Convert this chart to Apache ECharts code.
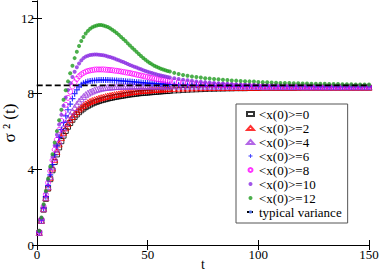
<!DOCTYPE html>
<html>
<head>
<meta charset="utf-8">
<script src="https://cdn.jsdelivr.net/npm/echarts@6/dist/echarts.min.js"></script>
<style>html,body{margin:0;padding:0;background:#fff;}#c{width:382px;height:273px;}</style>
</head>
<body>
<div id="c"></div>
<script>
// time grid: t = 1..60 (step 1), then 62..150 (step 2)
const tEarly = [1,2,3,4,5,6,7,8,9,10,11,12,13,14,15,16,17,18,19,20,21,22,23,24,25,26,27,28,29,30,31,32,33,34,35,36,37,38,39,40,41,42,43,44,45,46,47,48,49,50,51,52,53,54,55,56,57,58,59,60];
const tLate = [62,64,66,68,70,72,74,76,78,80,82,84,86,88,90,92,94,96,98,100,102,104,106,108,110,112,114,116,118,120,122,124,126,128,130,132,134,136,138,140,142,144,146,148,150];

const x0_0 = [0.64,1.27,1.87,2.44,2.98,3.48,3.95,4.39,4.79,5.16,
5.49,5.78,6.03,6.25,6.45,6.62,6.77,6.9,7.02,7.12,
7.21,7.29,7.36,7.42,7.48,7.53,7.57,7.61,7.65,7.68,
7.71,7.74,7.77,7.79,7.82,7.84,7.86,7.88,7.9,7.92,
7.94,7.96,7.97,7.99,8.0,8.02,8.03,8.04,8.05,8.06,
8.07,8.08,8.09,8.1,8.11,8.12,8.13,8.14,8.14,8.15,
8.17,8.18,8.2,8.21,8.22,8.23,8.24,8.25,8.26,8.26,
8.27,8.27,8.28,8.28,8.29,8.29,8.29,8.3,8.3,8.3,
8.31,8.31,8.31,8.31,8.31,8.31,8.31,8.31,8.32,8.32,
8.32,8.32,8.32,8.32,8.32,8.32,8.32,8.32,8.32,8.32,
8.32,8.32,8.32,8.32,8.32];

const x0_2 = [0.66,1.3,1.92,2.5,3.06,3.58,4.07,4.53,4.95,5.34,
5.68,5.96,6.2,6.42,6.62,6.79,6.94,7.07,7.19,7.29,
7.38,7.46,7.53,7.59,7.64,7.68,7.72,7.76,7.79,7.82,
7.85,7.88,7.9,7.93,7.95,7.97,7.99,8.01,8.03,8.05,
8.07,8.09,8.1,8.12,8.13,8.15,8.16,8.17,8.18,8.19,
8.2,8.21,8.22,8.23,8.24,8.24,8.25,8.26,8.26,8.27,
8.28,8.29,8.3,8.3,8.31,8.31,8.32,8.32,8.33,8.33,
8.33,8.33,8.33,8.33,8.33,8.33,8.33,8.33,8.33,8.33,
8.34,8.34,8.34,8.34,8.34,8.34,8.34,8.34,8.34,8.34,
8.34,8.34,8.34,8.34,8.34,8.34,8.34,8.34,8.34,8.34,
8.34,8.34,8.34,8.34,8.34];

const x0_4 = [0.66,1.3,1.92,2.52,3.09,3.63,4.14,4.62,5.07,5.49,
5.87,6.18,6.45,6.68,6.88,7.08,7.27,7.44,7.6,7.73,
7.85,7.95,8.03,8.09,8.14,8.19,8.23,8.26,8.29,8.31,
8.33,8.34,8.35,8.36,8.37,8.38,8.38,8.39,8.39,8.4,
8.4,8.4,8.4,8.41,8.41,8.41,8.41,8.41,8.41,8.41,
8.41,8.41,8.41,8.41,8.41,8.41,8.41,8.41,8.41,8.41,
8.41,8.4,8.4,8.4,8.4,8.4,8.4,8.39,8.39,8.39,
8.39,8.39,8.39,8.38,8.38,8.38,8.38,8.38,8.38,8.38,
8.37,8.37,8.37,8.37,8.37,8.37,8.37,8.37,8.37,8.36,
8.36,8.36,8.36,8.36,8.36,8.36,8.36,8.36,8.36,8.36,
8.36,8.36,8.36,8.36,8.36];

const x0_6 = [0.67,1.32,1.95,2.56,3.15,3.71,4.25,4.76,5.24,5.69,
6.1,6.48,6.83,7.15,7.45,7.74,8.0,8.2,8.36,8.47,
8.55,8.6,8.64,8.67,8.69,8.7,8.71,8.72,8.72,8.72,
8.72,8.72,8.71,8.71,8.7,8.7,8.69,8.68,8.67,8.66,
8.65,8.64,8.63,8.62,8.61,8.6,8.59,8.58,8.57,8.56,
8.55,8.54,8.54,8.53,8.52,8.51,8.5,8.5,8.49,8.49,
8.48,8.47,8.46,8.45,8.45,8.44,8.44,8.43,8.43,8.42,
8.42,8.42,8.41,8.41,8.41,8.4,8.4,8.4,8.4,8.39,
8.39,8.39,8.39,8.39,8.38,8.38,8.38,8.38,8.38,8.38,
8.38,8.38,8.37,8.37,8.37,8.37,8.37,8.37,8.37,8.37,
8.37,8.37,8.37,8.37,8.37];

const x0_8 = [0.7,1.38,2.04,2.68,3.3,3.9,4.48,5.04,5.57,6.08,
6.56,7.0,7.41,7.78,8.1,8.38,8.6,8.78,8.92,9.02,
9.1,9.16,9.2,9.23,9.25,9.27,9.28,9.28,9.28,9.28,
9.27,9.26,9.25,9.24,9.22,9.21,9.19,9.17,9.15,9.13,
9.11,9.09,9.06,9.04,9.01,8.98,8.96,8.93,8.9,8.88,
8.85,8.83,8.8,8.78,8.76,8.74,8.72,8.7,8.68,8.67,
8.64,8.61,8.58,8.56,8.54,8.52,8.5,8.49,8.48,8.47,
8.46,8.45,8.44,8.43,8.43,8.42,8.42,8.41,8.41,8.41,
8.4,8.4,8.4,8.4,8.39,8.39,8.39,8.39,8.39,8.39,
8.39,8.38,8.38,8.38,8.38,8.38,8.38,8.38,8.38,8.38,
8.38,8.38,8.38,8.38,8.38];

const x0_10 = [0.72,1.42,2.1,2.77,3.42,4.05,4.67,5.26,5.83,6.37,
6.88,7.36,7.8,8.2,8.56,8.88,9.16,9.4,9.6,9.76,
9.88,9.96,10.01,10.04,10.06,10.07,10.07,10.06,10.05,10.03,
10.0,9.97,9.94,9.9,9.86,9.81,9.77,9.72,9.67,9.62,
9.57,9.52,9.47,9.42,9.38,9.33,9.29,9.24,9.2,9.16,
9.12,9.09,9.05,9.02,8.99,8.96,8.93,8.91,8.88,8.86,
8.82,8.78,8.74,8.71,8.68,8.65,8.63,8.61,8.59,8.57,
8.55,8.54,8.52,8.51,8.5,8.49,8.48,8.47,8.46,8.45,
8.45,8.44,8.44,8.43,8.43,8.43,8.42,8.42,8.42,8.42,
8.41,8.41,8.41,8.41,8.41,8.41,8.4,8.4,8.4,8.4,
8.4,8.4,8.4,8.4,8.4];

const x0_12 = [0.75,1.45,2.15,2.85,3.5,4.15,4.8,5.42,6.02,6.6,
7.15,7.68,8.18,8.65,9.08,9.48,9.88,10.22,10.52,10.78,
11.0,11.18,11.32,11.43,11.51,11.57,11.61,11.63,11.63,11.61,
11.57,11.52,11.46,11.38,11.3,11.21,11.11,11.0,10.89,10.78,
10.66,10.55,10.43,10.32,10.21,10.1,9.99,9.89,9.79,9.7,
9.62,9.55,9.48,9.42,9.37,9.32,9.28,9.24,9.2,9.17,
9.1,9.04,8.99,8.95,8.91,8.88,8.85,8.82,8.8,8.78,
8.76,8.74,8.72,8.7,8.69,8.67,8.66,8.65,8.64,8.62,
8.61,8.6,8.59,8.58,8.57,8.57,8.56,8.55,8.55,8.54,
8.54,8.53,8.53,8.52,8.52,8.51,8.51,8.51,8.5,8.5,
8.5,8.49,8.49,8.49,8.48];

const typicalT = [-4.2, 150];
const typicalVar = [8.44, 8.44];

const seriesNames = ['<x(0)>=0','<x(0)>=2','<x(0)>=4','<x(0)>=6','<x(0)>=8','<x(0)>=10','<x(0)>=12'];
const xTicks = [0, 50, 100, 150];
const yTicks = [0, 4, 8, 12];

const T = tEarly.concat(tLate);
function pairs(vals){ return T.map((t,i)=>[t, vals[i]]); }

const FONT = "'Liberation Serif', 'Times New Roman', Times, serif";
const styles = [
  {symbol:'rect', size:5, item:{color:'rgba(0,0,0,0)', borderColor:'#000', borderWidth:1}},
  {symbol:'triangle', size:6, item:{color:'rgba(0,0,0,0)', borderColor:'#ff0000', borderWidth:1}},
  {symbol:'triangle', size:6, item:{color:'rgba(0,0,0,0)', borderColor:'#a040e0', borderWidth:1}},
  {symbol:'path://M4,0H6V4H10V6H6V10H4V6H0V4H4Z', size:6, item:{color:'#0000ff'}},
  {symbol:'circle', size:5, item:{color:'rgba(0,0,0,0)', borderColor:'#ff00ff', borderWidth:1}},
  {symbol:'circle', size:4, item:{color:'#8a2be2'}},
  {symbol:'circle', size:4, item:{color:'#1f9b1f'}}
];
const dataSets = [x0_0, x0_2, x0_4, x0_6, x0_8, x0_10, x0_12];

const series = dataSets.map((d,i)=>({
  name: seriesNames[i], type:'scatter', data: pairs(d),
  symbol: styles[i].symbol, symbolSize: styles[i].size,
  itemStyle: styles[i].item, silent:true, animation:false, z: 2+i
}));
series.push({
  name:'typical variance', type:'line', clip:false, symbol:'none',
  data: typicalT.map((t,i)=>[t, typicalVar[i]]),
  lineStyle:{color:'#000', width:1.6, type:[6,3]}, z: 20, animation:false
});

const axisCommon = {
  axisLine:{show:true, lineStyle:{color:'#000', width:1}},
  axisTick:{show:true, inside:true, length:5, lineStyle:{color:'#000'}},
  splitLine:{show:false}
};

const chart = echarts.init(document.getElementById('c'), null, {renderer:'svg'});
chart.setOption({
  animation:false,
  backgroundColor:'#fff',
  textStyle:{fontFamily:FONT},
  grid:{left:37, right:13, top:1, bottom:28, containLabel:false, outerBoundsMode:'none'},
  legend:{
    orient:'vertical', left:236, top:104,
    data: seriesNames.concat(['typical variance']),
    itemWidth:7, itemHeight:4, itemGap:0,
    padding:[3,6,4,10],
    borderColor:'#555', borderWidth:1, backgroundColor:'#fff',
    textStyle:{fontFamily:FONT, fontSize:13, color:'#000', lineHeight:14, padding:[0,0,0,0]},
    selectedMode:false
  },
  xAxis:[
    Object.assign({type:'value', min:0, max:150, interval:50, position:'bottom',
      name:'t', nameLocation:'middle', nameGap:12, nameMoveOverlap:false,
      nameTextStyle:{fontFamily:FONT, fontSize:14, color:'#000'},
      axisLabel:{fontFamily:FONT, fontSize:13, color:'#000', margin:3,
        formatter:v=> xTicks.indexOf(v)>=0 ? String(v) : ''}}, axisCommon),
    Object.assign({type:'value', min:0, max:150, interval:50, position:'top',
      axisLabel:{show:false}}, axisCommon)
  ],
  yAxis:[
    Object.assign({type:'value', min:0, max:12.9, interval:4, position:'left',
      name:'σ ² (t)', nameLocation:'middle', nameGap:19, nameMoveOverlap:false,
      nameTextStyle:{fontFamily:FONT, fontSize:17, color:'#000'},
      axisLabel:{fontFamily:FONT, fontSize:13, color:'#000', margin:3, showMaxLabel:false,
        formatter:v=> yTicks.indexOf(v)>=0 ? String(v) : ''}}, axisCommon),
    Object.assign({type:'value', min:0, max:12.9, interval:4, position:'right',
      axisLabel:{show:false}}, axisCommon)
  ],
  series: series
});
</script>
</body>
</html>
